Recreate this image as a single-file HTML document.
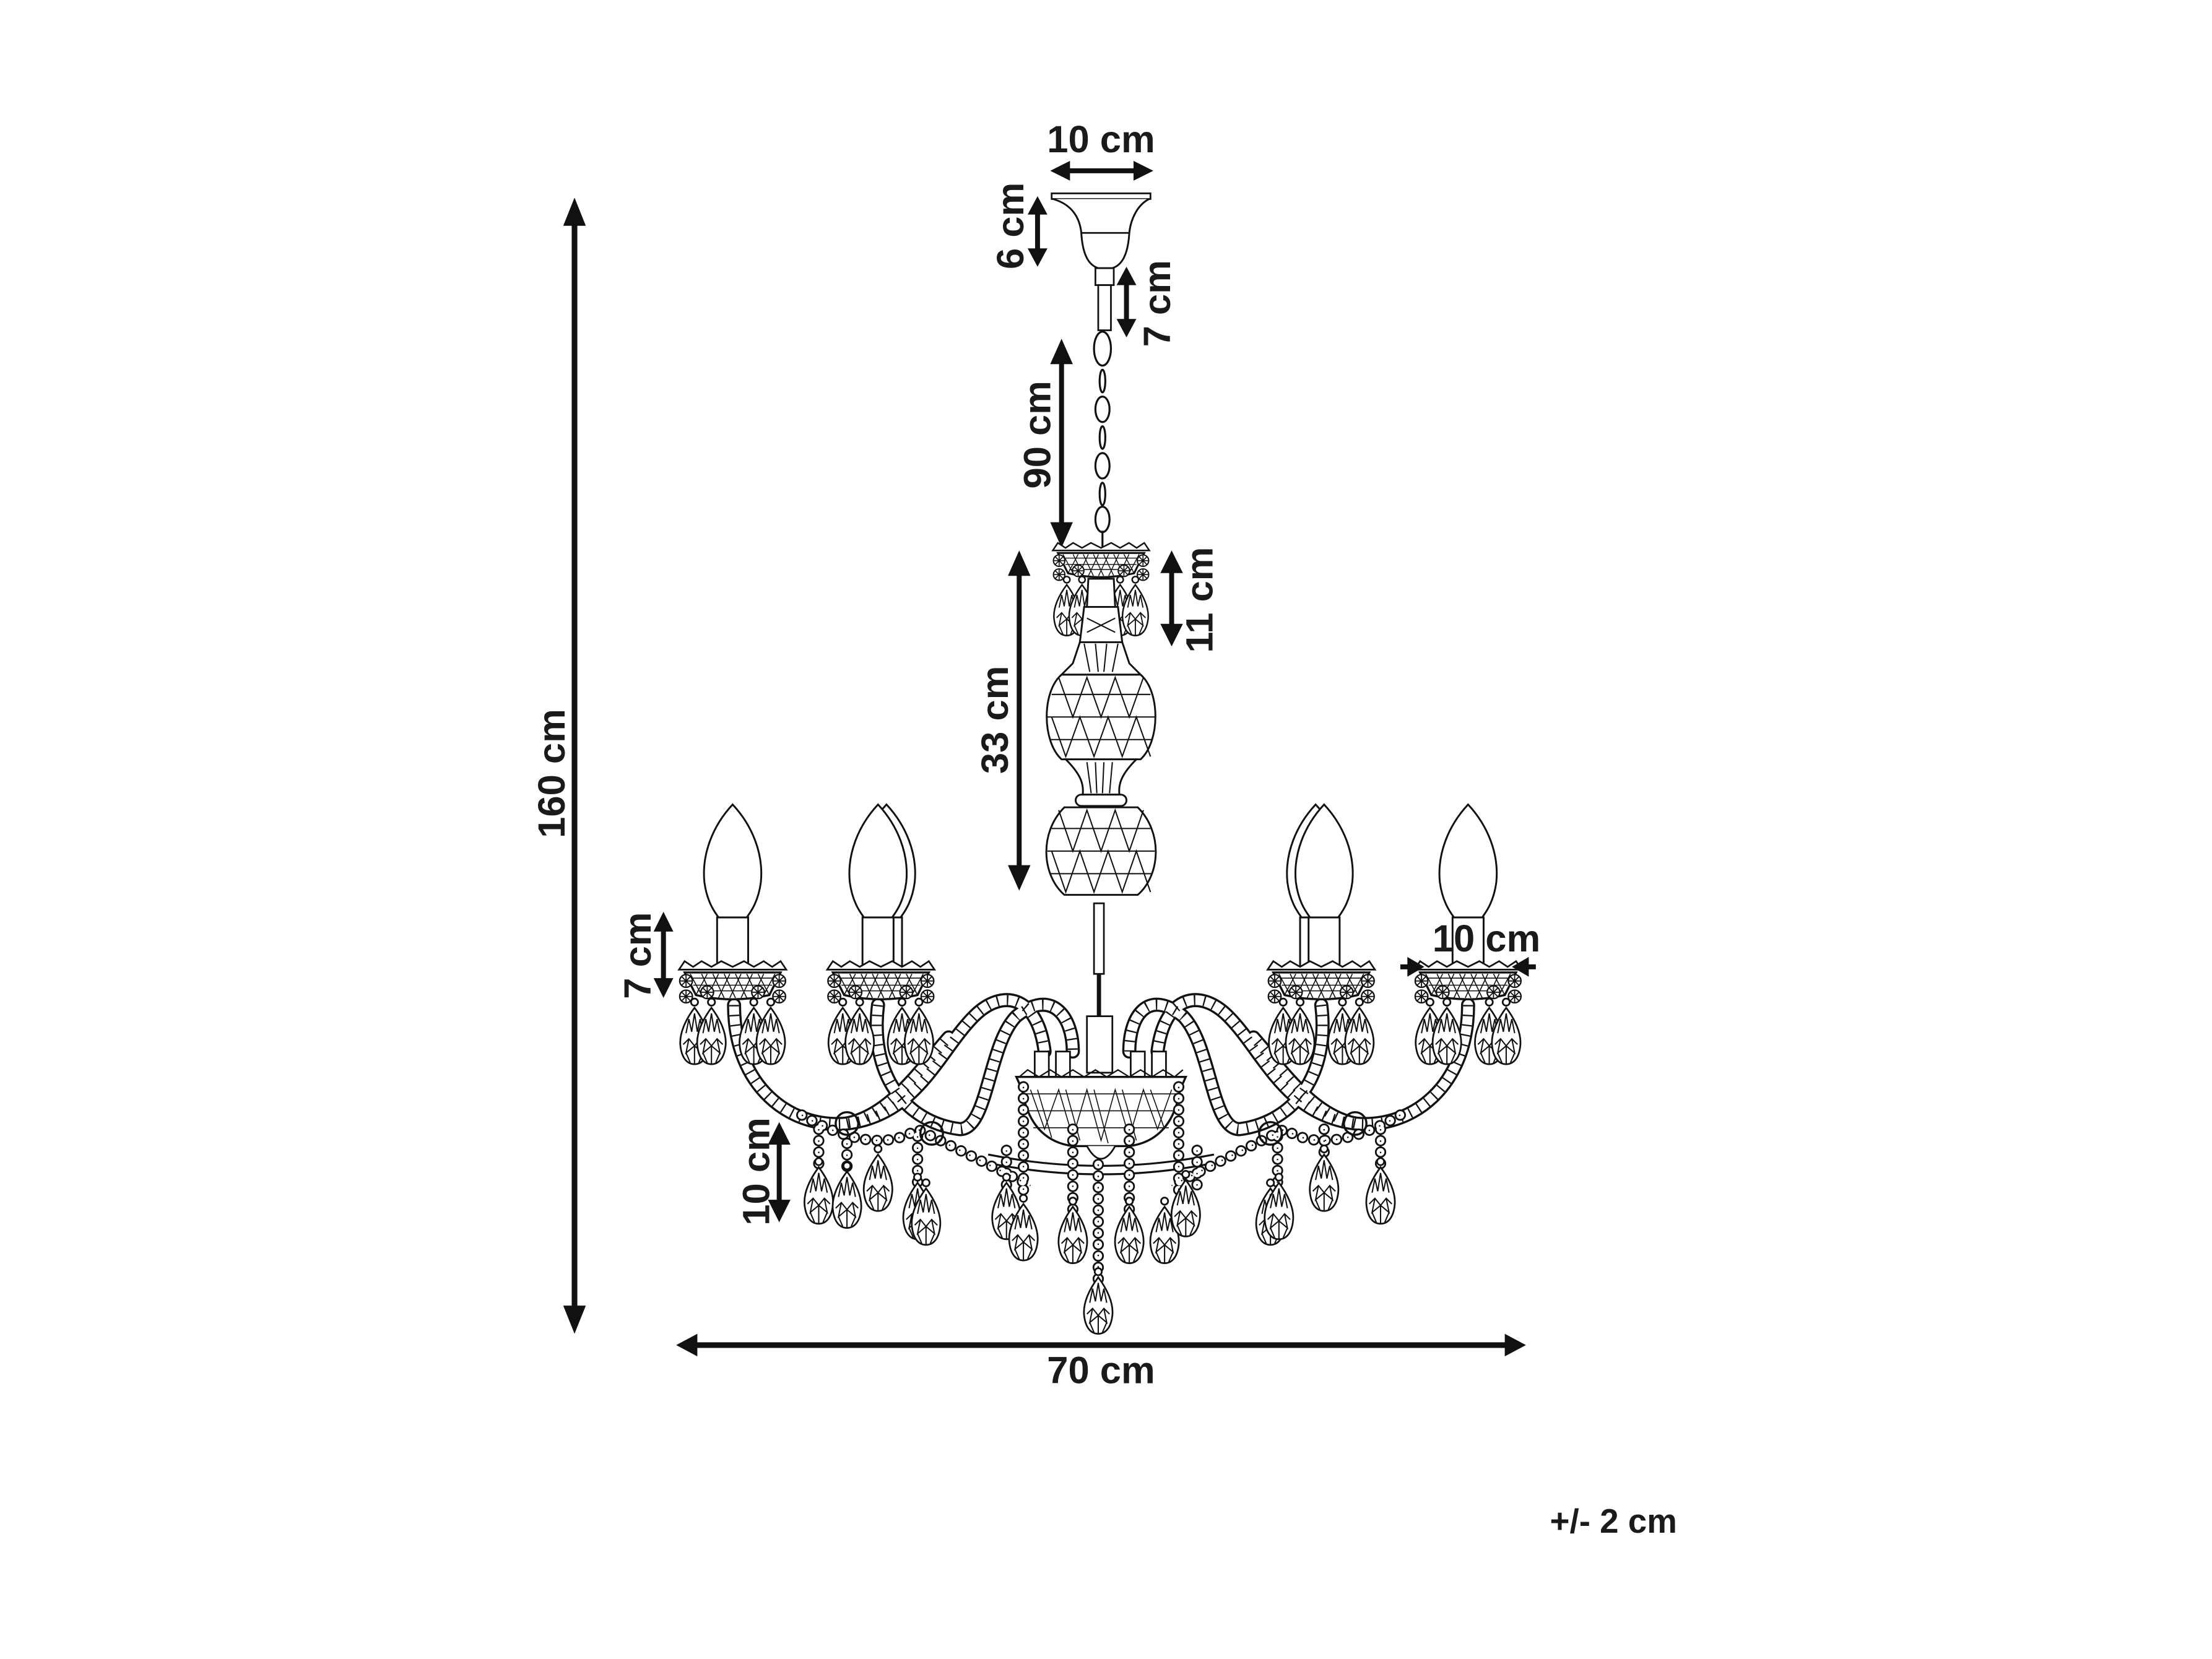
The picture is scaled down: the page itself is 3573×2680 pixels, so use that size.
<!DOCTYPE html>
<html><head><meta charset="utf-8"><style>
html,body{margin:0;padding:0;background:#fff}
svg{display:block}
text{font-family:"Liberation Sans",sans-serif;font-weight:bold;fill:#1a1a1a}
</style></head><body>
<svg width="3573" height="2680" viewBox="0 0 1567 1175.4" preserveAspectRatio="none" xmlns="http://www.w3.org/2000/svg">
<defs>
<g id="drop" fill="#fff" stroke="#111" stroke-width="1.2">
<circle cx="0" cy="-4" r="2.5"/>
<path d="M0,0 C6,8 11,18 10,27 C9,36 5,40 0,40 C-5,40 -9,36 -10,27 C-11,18 -6,8 0,0Z"/>
<path d="M-6,18 L-4,8 L-2,17 L0,4 L2,17 L4,8 L6,18 M-8,26 L-4,22 L0,27 L4,22 L8,26 M-4,22 L-6,32 L0,27 L6,32 L4,22 M-6,32 L-3,39 M6,32 L3,39 M0,27 L0,40" fill="none" stroke-width="0.9"/>
</g>
<g id="bead" fill="#fff" stroke="#111" stroke-width="1">
<circle r="4.5"/><path d="M-4,0H4M0,-4V4M-3,-3L3,3M3,-3L-3,3" stroke-width="0.8"/>
</g>
<g id="cup">
<path d="M-38,0 L-34,-6 L-28,-2 L-22,-6 L-15,-2 L-8,-6 L0,-2 L8,-6 L15,-2 L22,-6 L28,-2 L34,-6 L38,0 Z" fill="#fff" stroke="#111" stroke-width="1.2"/>
<path d="M-34,2 L34,2 L26,18 Q0,24 -26,18 Z" fill="#fff" stroke="#111" stroke-width="1.5"/>
<path d="M-30,6 L30,6 M-28,11 L28,11 M-25,15 L25,15 M-30,3 L-22,18 M-22,3 L-14,20 M-14,3 L-6,20 M-6,3 L2,20 M2,3 L10,20 M10,3 L18,20 M18,3 L26,18 M-18,3 L-26,18 M-10,3 L-18,20 M-2,3 L-10,20 M6,3 L-2,20 M14,3 L6,20 M22,3 L14,20 M30,3 L22,18" stroke="#111" stroke-width="0.7"/>
<use href="#bead" x="-33" y="8"/><use href="#bead" x="33" y="8"/>
<use href="#bead" x="-33" y="19"/><use href="#bead" x="33" y="19"/>
<use href="#bead" x="-18" y="16"/><use href="#bead" x="18" y="16"/>
<use href="#drop" x="-27" y="27"/><use href="#drop" x="-15" y="27"/>
<use href="#drop" x="15" y="27"/><use href="#drop" x="27" y="27"/>
</g>
<g id="candle">
<path d="M0,-105 C-14,-90 -22,-70 -20,-50 C-18,-35 -12,-28 -10,-25 L10,-25 C12,-28 18,-35 20,-50 C22,-70 14,-90 0,-105Z" fill="#fff" stroke="#111" stroke-width="1.3"/>
<rect x="-11" y="-25" width="22" height="35" fill="#fff" stroke="#111" stroke-width="1.3"/>
</g>
<g id="gar">
<path d="M568,790 Q620,820 650,800 Q690,820 730,840"/>
<path d="M992,790 Q940,820 910,800 Q870,820 830,840"/>
<path d="M725,770 L725,850 M835,770 L835,850 M760,800 L760,860 M800,800 L800,860 M778,825 L778,915"/>
<path d="M580,800 L580,830 M600,810 L600,833 M650,805 L650,840 M713,815 L713,840 M848,815 L848,840 M905,805 L905,840 M938,800 L938,820 M978,800 L978,825"/>
</g>
</defs>

<!-- 160 cm -->
<line x1="407" y1="155" x2="407" y2="930" stroke="#111" stroke-width="4"/>
<path d="M407,140 L399,160 L415,160Z M407,945 L399,925 L415,925Z" fill="#111"/>
<text transform="translate(400,548) rotate(-90)" font-size="27" text-anchor="middle">160 cm</text>

<!-- 70 cm -->
<line x1="492" y1="953" x2="1068" y2="953" stroke="#111" stroke-width="4"/>
<path d="M479,953 L494,945 L494,961Z M1081,953 L1066,945 L1066,961Z" fill="#111"/>
<text x="780" y="980" font-size="27" text-anchor="middle">70 cm</text>

<text x="1143" y="1086" font-size="24" text-anchor="middle">+/- 2 cm</text>

<!-- top 10 cm -->
<text x="780" y="108" font-size="27" text-anchor="middle">10 cm</text>
<line x1="755" y1="121" x2="806" y2="121" stroke="#111" stroke-width="3.5"/>
<path d="M744,121 L758,114 L758,128Z M817,121 L803,114 L803,128Z" fill="#111"/>

<!-- canopy -->
<rect x="745" y="137" width="70" height="4" fill="#fff" stroke="#111" stroke-width="1.2"/>
<path d="M746,141 C760,145 765,155 766,165 C767,182 772,188 778,190 L788,190 C794,188 799,182 800,165 C801,155 806,145 814,141" fill="#fff" stroke="#111" stroke-width="1.3"/>
<line x1="766" y1="165" x2="800" y2="165" stroke="#111" stroke-width="1.2"/>
<rect x="776" y="190" width="13" height="12" fill="#fff" stroke="#111" stroke-width="1.2"/>
<rect x="778" y="202" width="9" height="32" fill="#fff" stroke="#111" stroke-width="1.2"/>
<!-- 6 cm -->
<line x1="735" y1="150" x2="735" y2="178" stroke="#111" stroke-width="3.5"/>
<path d="M735,139 L728,152 L742,152Z M735,189 L728,176 L742,176Z" fill="#111"/>
<text transform="translate(725,160) rotate(-90)" font-size="27" text-anchor="middle">6 cm</text>
<!-- 7 cm -->
<line x1="798" y1="200" x2="798" y2="228" stroke="#111" stroke-width="3.5"/>
<path d="M798,189 L791,202 L805,202Z M798,239 L791,226 L805,226Z" fill="#111"/>
<text transform="translate(829,215) rotate(-90)" font-size="27" text-anchor="middle">7 cm</text>

<!-- chain -->
<g fill="none" stroke="#111" stroke-width="1.4">
<ellipse cx="781" cy="247" rx="6" ry="12"/>
<ellipse cx="781" cy="270" rx="2" ry="8"/><ellipse cx="781" cy="290" rx="5" ry="9"/>
<ellipse cx="781" cy="310" rx="2" ry="8"/><ellipse cx="781" cy="330" rx="5" ry="9"/>
<ellipse cx="781" cy="350" rx="2" ry="8"/><ellipse cx="781" cy="368" rx="5" ry="9"/>
<line x1="781" y1="376" x2="781" y2="390"/>
</g>
<!-- 90 cm -->
<line x1="752" y1="255" x2="752" y2="374" stroke="#111" stroke-width="3.5"/>
<path d="M752,240 L744,258 L760,258Z M752,388 L744,370 L760,370Z" fill="#111"/>
<text transform="translate(744,308) rotate(-90)" font-size="27" text-anchor="middle">90 cm</text>

<!-- crown -->
<g transform="translate(780,390) scale(0.9)"><use href="#cup"/></g>
<!-- neck & body -->
<g stroke="#111" stroke-width="1.3" fill="#fff">
<path d="M771,410 L789,410 L790,430 L770,430Z"/>
<path d="M768,430 L792,430 L795,455 L765,455Z"/>
<path d="M765,455 L795,455 L800,470 L808,478 L752,478 L760,470Z"/>
<path d="M752,478 L808,478 C822,490 822,525 808,538 L752,538 C738,525 738,490 752,478Z"/>
<path d="M755,538 L805,538 C795,548 792,555 793,563 L767,563 C768,555 765,548 755,538Z"/>
<rect x="762" y="563" width="36" height="8" rx="4"/>
<path d="M754,572 L806,572 C824,590 822,620 806,634 L754,634 C738,620 736,590 754,572Z"/>
</g>
<g stroke="#111" stroke-width="0.9" fill="none">
<path d="M745,492 H815 M742,508 H818 M744,524 H816 M745,587 H815 M742,603 H818 M744,619 H816"/>
<path d="M750,480 L760,508 L770,480 L780,508 L790,480 L800,508 L810,480 M745,508 L755,536 L765,508 L775,536 L785,508 L795,536 L805,508 L815,536"/>
<path d="M750,574 L760,603 L770,574 L780,603 L790,574 L800,603 L810,574 M745,603 L755,632 L765,603 L775,632 L785,603 L795,632 L805,603 L815,632"/>
<path d="M770,540 L773,562 M776,540 L777,562 M782,540 L781,562 M788,540 L786,562 M768,456 L772,476 M776,456 L778,476 M784,456 L782,476 M792,456 L788,476 M770,438 L790,448 M790,438 L770,448"/>
</g>
<!-- 11 cm -->
<line x1="830" y1="402" x2="830" y2="446" stroke="#111" stroke-width="3.5"/>
<path d="M830,390 L822,406 L838,406Z M830,458 L822,442 L838,442Z" fill="#111"/>
<text transform="translate(859,425) rotate(-90)" font-size="27" text-anchor="middle">11 cm</text>
<!-- 33 cm -->
<line x1="722" y1="405" x2="722" y2="616" stroke="#111" stroke-width="3.5"/>
<path d="M722,390 L714,408 L730,408Z M722,631 L714,613 L730,613Z" fill="#111"/>
<text transform="translate(714,510) rotate(-90)" font-size="27" text-anchor="middle">33 cm</text>

<!-- rod -->
<rect x="775" y="640" width="7" height="50" fill="#fff" stroke="#111" stroke-width="1.2"/>
<line x1="778.5" y1="690" x2="778.5" y2="720" stroke="#111" stroke-width="3"/>
<rect x="770" y="720" width="18" height="40" fill="#fff" stroke="#111" stroke-width="1.2"/>

<!-- arms -->
<g fill="none" stroke-linecap="round">
<g stroke="#111" stroke-width="10">
<path id="a1" d="M520,712 C520,770 560,800 600,796 C650,790 665,745 690,720 C710,700 735,705 740,745"/>
<path id="a2" d="M622,712 C616,760 640,795 680,800 C700,800 700,740 720,720 C745,700 760,720 760,745"/>
<path id="a3" d="M1040,712 C1040,770 1000,800 960,796 C910,790 895,745 870,720 C850,700 825,705 820,745"/>
<path id="a4" d="M936,712 C942,760 918,795 878,800 C858,800 858,740 838,720 C813,700 800,720 800,745"/>
<path id="a5" d="M600,796 C630,790 650,760 672,735"/>
<path id="a6" d="M960,796 C930,790 910,760 888,735"/>
</g>
<g stroke="#fff" stroke-width="7">
<use href="#a1"/><use href="#a2"/><use href="#a3"/><use href="#a4"/><use href="#a5"/><use href="#a6"/>
</g>
<g stroke="#111" stroke-width="7" stroke-dasharray="1 6" stroke-linecap="butt">
<use href="#a1"/><use href="#a2"/><use href="#a3"/><use href="#a4"/><use href="#a5"/><use href="#a6"/>
</g>
</g>
<!-- central candle stubs -->
<g fill="#fff" stroke="#111" stroke-width="1.2">
<rect x="733" y="745" width="10" height="18"/><rect x="748" y="745" width="10" height="18"/>
<rect x="801" y="745" width="10" height="18"/><rect x="816" y="745" width="10" height="18"/>
</g>
<!-- bowl -->
<path d="M720,763 L840,763 L836,772 Q830,808 800,812 L760,812 Q730,808 724,772Z" fill="#fff" stroke="#111" stroke-width="1.5"/>
<path d="M722,763 L728,758 L736,763 L744,758 L752,763 L760,758 L768,763 L776,758 L784,763 L792,758 L800,763 L808,758 L816,763 L824,758 L832,763 L838,758" fill="none" stroke="#111" stroke-width="1"/>
<path d="M726,775 H834 M728,787 H832 M732,799 H828 M730,772 L740,800 L750,772 L760,806 L770,772 L780,808 L790,772 L800,806 L810,772 L820,800 L830,772 M735,772 L745,806 M755,772 L765,808 M775,772 L785,810 M795,772 L805,808 M815,772 L825,800" fill="none" stroke="#111" stroke-width="0.7"/>
<path d="M770,812 Q780,830 790,812" fill="#fff" stroke="#111" stroke-width="1.2"/>
<!-- ring -->
<path d="M700,818 Q780,834 860,818 M700,824 Q780,840 860,824" fill="none" stroke="#111" stroke-width="1.4"/>

<!-- garlands -->
<use href="#gar" fill="none" stroke="#111" stroke-width="8" stroke-dasharray="0.1 8" stroke-linecap="round"/>
<use href="#gar" fill="none" stroke="#fff" stroke-width="5.5" stroke-dasharray="0.1 8" stroke-linecap="round"/>
<use href="#gar" fill="none" stroke="#111" stroke-width="1" stroke-dasharray="1 7"/>
<circle cx="600" cy="796" r="8" fill="none" stroke="#111" stroke-width="1.5"/>
<circle cx="660" cy="803" r="8" fill="none" stroke="#111" stroke-width="1.5"/>
<circle cx="960" cy="796" r="8" fill="none" stroke="#111" stroke-width="1.5"/>
<circle cx="900" cy="803" r="8" fill="none" stroke="#111" stroke-width="1.5"/>

<!-- hanging drops -->
<use href="#drop" x="580" y="827"/><use href="#drop" x="600" y="830"/><use href="#drop" x="622" y="818"/>
<use href="#drop" x="650" y="838"/><use href="#drop" x="656" y="842"/>
<use href="#drop" x="713" y="838"/><use href="#drop" x="725" y="853"/>
<use href="#drop" x="760" y="855"/><use href="#drop" x="800" y="855"/>
<use href="#drop" x="825" y="855"/><use href="#drop" x="840" y="836"/>
<use href="#drop" x="900" y="842"/><use href="#drop" x="906" y="838"/>
<use href="#drop" x="938" y="818"/><use href="#drop" x="978" y="827"/>
<use href="#drop" x="778" y="905"/>

<!-- candles -->
<g transform="translate(519,675)"><use href="#candle"/></g>
<g transform="translate(628,675)"><use href="#candle"/></g>
<g transform="translate(622,675)"><use href="#candle"/></g>
<g transform="translate(932,675)"><use href="#candle"/></g>
<g transform="translate(938,675)"><use href="#candle"/></g>
<g transform="translate(1040,675)"><use href="#candle"/></g>
<g transform="translate(519,687)"><use href="#cup"/></g>
<g transform="translate(624,687)"><use href="#cup"/></g>
<g transform="translate(936,687)"><use href="#cup"/></g>
<g transform="translate(1040,687)"><use href="#cup"/></g>

<!-- 7 cm left -->
<line x1="470" y1="658" x2="470" y2="695" stroke="#111" stroke-width="3.5"/>
<path d="M470,646 L463,660 L477,660Z M470,707 L463,693 L477,693Z" fill="#111"/>
<text transform="translate(461,677) rotate(-90)" font-size="27" text-anchor="middle">7 cm</text>
<!-- 10 cm right -->
<text x="1053" y="674" font-size="27" text-anchor="middle">10 cm</text>
<line x1="992" y1="685" x2="1004" y2="685" stroke="#111" stroke-width="3.5"/>
<line x1="1076" y1="685" x2="1088" y2="685" stroke="#111" stroke-width="3.5"/>
<path d="M1009,685 L997,678 L997,692Z M1071,685 L1083,678 L1083,692Z" fill="#111"/>
<!-- 10 cm left bottom -->
<line x1="552" y1="808" x2="552" y2="853" stroke="#111" stroke-width="3.5"/>
<path d="M552,795 L544,811 L560,811Z M552,866 L544,850 L560,850Z" fill="#111"/>
<text transform="translate(545,830) rotate(-90)" font-size="27" text-anchor="middle">10 cm</text>
</svg>
</body></html>
